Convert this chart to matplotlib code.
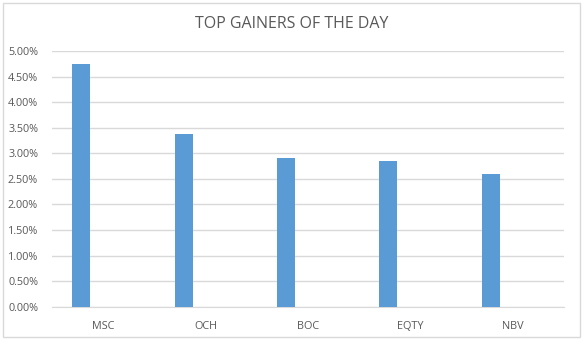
import matplotlib.pyplot as plt
import numpy as np
from matplotlib.patches import Rectangle
from matplotlib.ticker import PercentFormatter

stocks = ["MSC", "OCH", "BOC", "EQTY", "NBV"]
gain_pct = [4.75, 3.38, 2.91, 2.85, 2.60]
y_ticks = [0, 0.5, 1.0, 1.5, 2.0, 2.5, 3.0, 3.5, 4.0, 4.5, 5.0]

plt.rcParams['font.family'] = ['Open Sans', 'DejaVu Sans']

fig = plt.figure(figsize=(5.84, 3.42), dpi=100)
ax = fig.add_axes([52 / 584, 1 - 306.7 / 342, 512 / 584, 255.7 / 342])

x = np.arange(len(stocks))
ax.bar(x - 0.215, gain_pct, width=0.176, color='#5b9bd5', zorder=3)

ax.set_xlim(-0.5, len(stocks) - 0.5)
ax.set_ylim(0, 5.0)
ax.set_yticks(y_ticks)
ax.yaxis.set_major_formatter(PercentFormatter(decimals=2))
ax.set_xticks(x)
ax.set_xticklabels(stocks)

ax.grid(axis='y', color='#d9d9d9', linewidth=1, zorder=0)
for s in ['top', 'right', 'left']:
    ax.spines[s].set_visible(False)
ax.spines['bottom'].set_color('#d9d9d9')
ax.tick_params(axis='both', length=0, labelsize=7.8, colors='#595959')
ax.tick_params(axis='x', pad=10)
ax.tick_params(axis='y', pad=10)

fig.text(0.5, 1 - 24 / 342, "TOP GAINERS OF THE DAY", ha='center', va='center',
         fontsize=11.5, color='#595959')

border = Rectangle((3 / 584, 1 - 337 / 342), 577 / 584, 334 / 342,
                   transform=fig.transFigure, fill=False, edgecolor='#d9d9d9',
                   linewidth=1)
fig.patches.append(border)

fig.savefig('out.png', dpi=100)
